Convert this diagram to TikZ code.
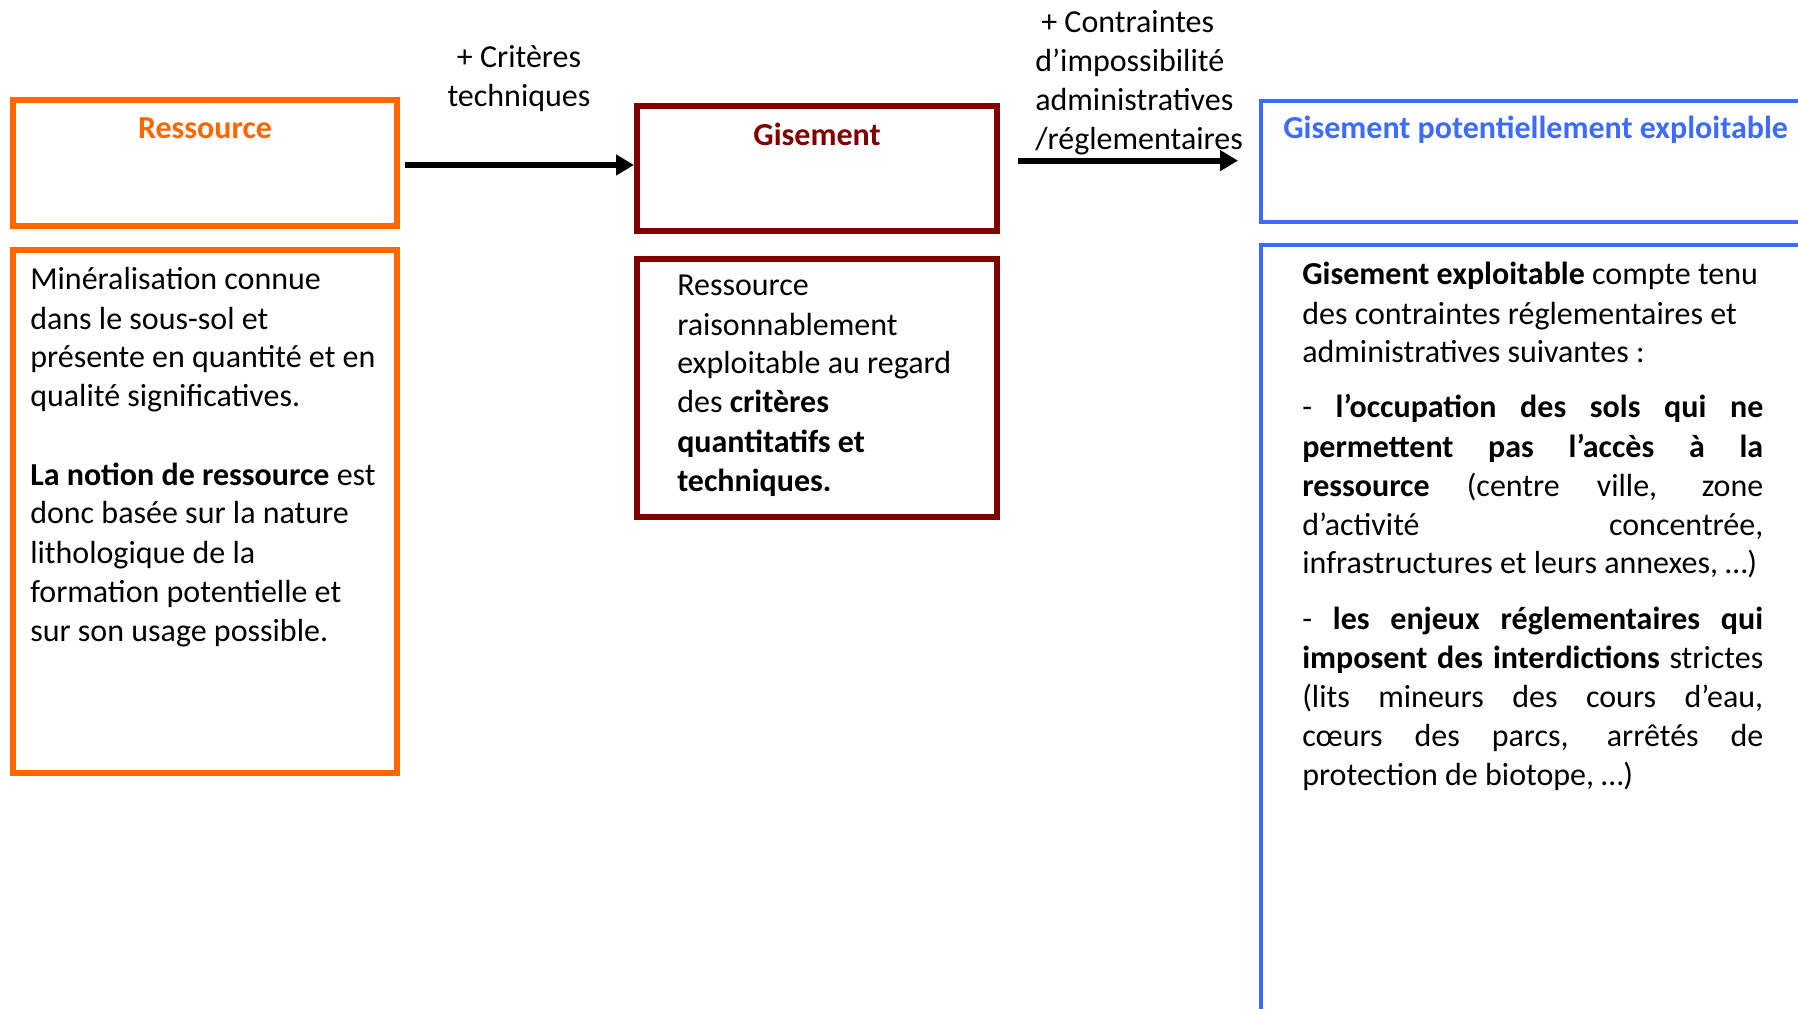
\documentclass[tikz,border=0pt]{standalone}
\usepackage{fontspec}
\setmainfont{Carlito}
\usetikzlibrary{arrows.meta,positioning}

\definecolor{orangeres}{RGB}{255,102,0}
\definecolor{rougegis}{RGB}{128,0,0}
\definecolor{bleuexp}{RGB}{61,107,255}
\newdimen\px \px=0.75pt

\tikzset{
	cadre/.style={draw=#1, inner sep=0pt, anchor=north west},
	titre/.style={font=\fontsize{24}{29.25}\selectfont\bfseries, inner sep=0pt, text=#1},
	corps/.style={font=\fontsize{24}{29.25}\selectfont, inner sep=0pt, anchor=base west},
	fleche/.style={line width=4.5pt, -{Triangle[length=13.5pt,width=15pt]}}
}

\begin{document}
\begin{tikzpicture}[x=0.75pt,y=0.75pt,yscale=-1,xscale=1]
		\useasboundingbox (0,0) rectangle (1798,1009);
		\clip (0,0) rectangle (1798,1009);
		
		%Shape: Rectangle [ressource]
		\node [cadre=orangeres, line width=4.5pt, minimum width=384\px, minimum height=126\px] (ressource) at (10,97) {};
		%Shape: Rectangle [ressource, texte]
		\node [cadre=orangeres, line width=4.5pt, minimum width=384\px, minimum height=523\px] (ressourcedesc) at (10,247) {};
		%Shape: Rectangle [gisement]
		\node [cadre=rougegis, line width=4.8pt, minimum width=360\px, minimum height=125\px] (gisement) at (634,103) {};
		%Shape: Rectangle [gisement, texte]
		\node [cadre=rougegis, line width=4.8pt, minimum width=360\px, minimum height=258\px] (gisementdesc) at (634,256) {};
		%Shape: Rectangle [potentiel]
		\node [cadre=bleuexp, line width=3.2pt, minimum width=600\px, minimum height=121\px] (potentiel) at (1259,99) {};
		%Shape: Rectangle [exploitable, texte]
		\node [cadre=bleuexp, line width=3.2pt, minimum width=600\px, minimum height=900\px] (exploitabledesc) at (1259,243) {};
		
		%Straight Lines
		\draw [fleche] ([xshift=5\px,yshift=2\px]ressource.east) -- ([yshift=2\px]gisement.west |- ressource.east);
		%Straight Lines
		\draw [fleche] ([xshift=18\px,yshift=-1\px]gisement.east |- potentiel.west) -- ([xshift=-21\px,yshift=-1\px]potentiel.west);
		
		% Text Node
		\node [titre=orangeres, anchor=base] (ressourcetitre) at (205,139) {Ressource};
		% Text Node
		\node [titre=rougegis, anchor=base] (gisementtitre) at (817,146) {Gisement};
		% Text Node
		\node [titre=bleuexp, anchor=base west] (potentieltitre) at (1283,139) {Gisement potentiellement exploitable};
		% Text Node
		\node [corps, anchor=base, text width=220\px, align=flush center] (criteres) at (519,68) {+ Critères\\techniques};
		% Text Node
		\node [corps, text width=260\px, align=flush left] (contraintes) at (1035,33) {\hspace{4.5pt}+ Contraintes\\d’impossibilité\\administratives\\/réglementaires};
		% Text Node
		\node [corps, text width=360\px, align=flush left] (ressourcetexte) at (30,290) {Minéralisation connue\\dans le sous-sol et\\présente en quantité et en\\qualité significatives.\\[29.25pt]\textbf{La notion de ressource} est\\donc basée sur la nature\\lithologique de la\\formation potentielle et\\sur son usage possible.};
		% Text Node
		\node [corps, text width=300\px, align=flush left] (gisementtexte) at (677,296) {Ressource\\raisonnablement\\exploitable au regard\\des \textbf{critères}\\\textbf{quantitatifs et}\\\textbf{techniques.}};
		% Text Node
		\node [corps, text width=461\px, align=justify] (exploitabletexte) at (1302,285) {\parindent=0pt
			\textbf{Gisement exploitable} compte tenu\newline des contraintes réglementaires et\newline administratives suivantes :\par\vspace{12pt}
			- \textbf{l’occupation des sols qui ne}\linebreak \textbf{permettent pas l’accès à la}\linebreak \textbf{ressource} (centre ville, zone\linebreak d’activité concentrée,\linebreak \mbox{infrastructures et leurs annexes, …)}\par\vspace{12pt}
			- \textbf{les enjeux réglementaires qui}\linebreak \textbf{imposent des interdictions} strictes\linebreak (lits mineurs des cours d’eau,\linebreak cœurs des parcs, arrêtés de\linebreak protection de biotope, …)};
		
\end{tikzpicture}
\end{document}
